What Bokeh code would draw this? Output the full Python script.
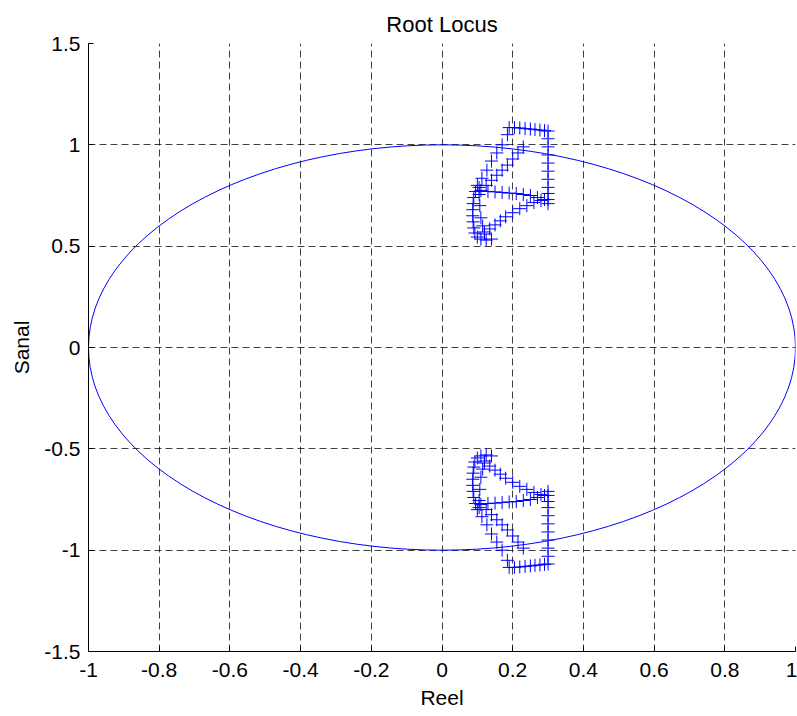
from bokeh.plotting import figure
from bokeh.models import FixedTicker, Range1d
from bokeh.embed import file_html
from bokeh.resources import INLINE

# Axis ticks and their printed labels
x_ticks = [-1, -0.8, -0.6, -0.4, -0.2, 0, 0.2, 0.4, 0.6, 0.8, 1]
x_tick_labels = ["-1", "-0.8", "-0.6", "-0.4", "-0.2", "0", "0.2", "0.4", "0.6", "0.8", "1"]
y_ticks = [-1.5, -1, -0.5, 0, 0.5, 1, 1.5]
y_tick_labels = ["-1.5", "-1", "-0.5", "0", "0.5", "1", "1.5"]

# Root locus branches in the upper half-plane (real, imaginary parts)
top_re = [0.19, 0.205, 0.22, 0.235, 0.25, 0.263, 0.277, 0.29, 0.30]
top_im = [1.085, 1.085, 1.083, 1.08, 1.078, 1.075, 1.073, 1.07, 1.068]

right_re = [0.30, 0.30, 0.30, 0.30, 0.30, 0.30, 0.30, 0.30, 0.30, 0.30]
right_im = [1.03, 0.99, 0.95, 0.91, 0.87, 0.83, 0.79, 0.76, 0.73, 0.71]

outer_re = [0.185, 0.17, 0.155, 0.14, 0.127, 0.113, 0.10]
outer_im = [1.05, 1.00, 0.96, 0.92, 0.875, 0.835, 0.80]

left_re = [0.095, 0.09, 0.088, 0.087, 0.087, 0.088, 0.09, 0.093, 0.10, 0.11, 0.125, 0.14]
left_im = [0.77, 0.74, 0.71, 0.68, 0.65, 0.62, 0.59, 0.565, 0.545, 0.535, 0.53, 0.535]

left2_re = [0.105, 0.105, 0.107, 0.11, 0.115, 0.12]
left2_im = [0.79, 0.755, 0.70, 0.64, 0.60, 0.57]

mid_re = [0.11, 0.13, 0.15, 0.17, 0.19, 0.21, 0.23, 0.25, 0.27, 0.29]
mid_im = [0.775, 0.77, 0.768, 0.765, 0.762, 0.76, 0.755, 0.75, 0.74, 0.73]

low_re = [0.12, 0.135, 0.15, 0.165, 0.18, 0.20, 0.22, 0.24, 0.26, 0.28]
low_im = [0.56, 0.585, 0.605, 0.625, 0.645, 0.665, 0.685, 0.70, 0.715, 0.725]

inner_re = [0.23, 0.215, 0.20, 0.185, 0.17, 0.155, 0.14, 0.125]
inner_im = [0.99, 0.96, 0.93, 0.90, 0.875, 0.85, 0.825, 0.80]

branches = [
    (top_re, top_im), (right_re, right_im), (outer_re, outer_im),
    (left_re, left_im), (left2_re, left2_im), (mid_re, mid_im),
    (low_re, low_im), (inner_re, inner_im),
]

BLUE = "#0000ff"
FONT = "Liberation Sans"

p = figure(
    width=797, height=716,
    x_range=Range1d(-1, 1), y_range=Range1d(-1.5, 1.5),
    output_backend="svg", toolbar_location=None,
    title="Root Locus",
    min_border_left=88, min_border_right=2, min_border_top=43, min_border_bottom=65,
)
p.outline_line_color = None
p.background_fill_color = "white"
p.border_fill_color = "white"

p.title.align = "center"
p.title.vertical_align = "top"
p.title.text_font = FONT
p.title.text_font_size = "22px"
p.title.text_font_style = "normal"
p.title.text_color = "black"
p.title.standoff = 10

# Unit circle (stability boundary)
p.ellipse(x=0, y=0, width=2, height=2, fill_color=None, line_color=BLUE, line_width=1)

# Closed-loop pole trajectories and their complex conjugates
for re, im in branches:
    p.scatter(re, im, marker="cross", size=13, line_color=BLUE, line_width=1)
    p.scatter(re, [-v for v in im], marker="cross", size=13, line_color=BLUE, line_width=1)

p.xaxis.ticker = FixedTicker(ticks=x_ticks)
p.yaxis.ticker = FixedTicker(ticks=y_ticks)
p.xaxis.major_label_overrides = dict(zip(x_ticks, x_tick_labels))
p.yaxis.major_label_overrides = dict(zip(y_ticks, y_tick_labels))

for ax in (p.xaxis, p.yaxis):
    ax.axis_line_color = "black"
    ax.major_tick_in = 5
    ax.major_tick_out = 0
    ax.minor_tick_line_color = None
    ax.major_tick_line_color = "black"
    ax.major_label_text_font = FONT
    ax.major_label_text_font_size = "21px"
    ax.major_label_text_color = "black"
    ax.axis_label_text_font = FONT
    ax.axis_label_text_font_size = "21px"
    ax.axis_label_text_font_style = "normal"
    ax.axis_label_text_color = "black"

p.xaxis.axis_label = "Reel"
p.yaxis.axis_label = "Sanal"
p.xaxis.major_label_standoff = 11
p.yaxis.major_label_standoff = 8
p.xaxis.axis_label_standoff = 6
p.yaxis.axis_label_standoff = 8

p.grid.grid_line_color = "black"
p.grid.grid_line_alpha = 0.75
p.grid.grid_line_dash = "7 4"
p.grid.grid_line_width = 1

open("out.html", "w").write(file_html(p, INLINE))
